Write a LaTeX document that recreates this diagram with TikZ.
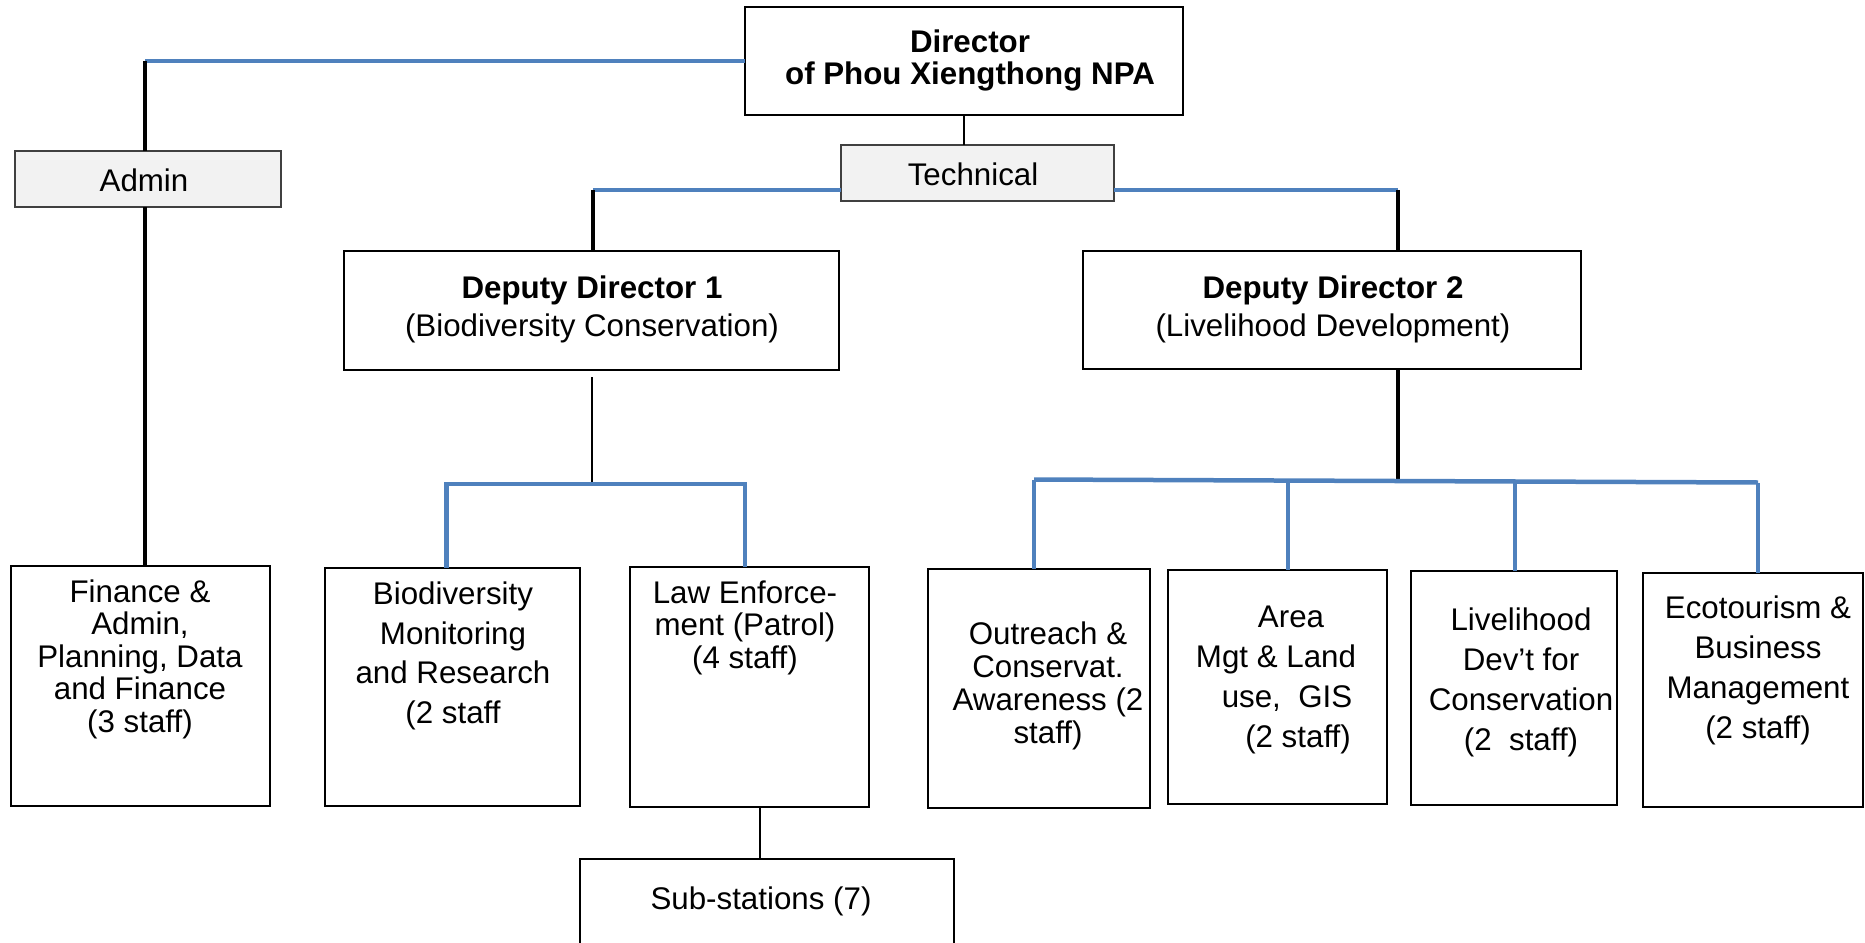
\documentclass[tikz,border=0pt]{standalone}
\usepackage{fontspec}
\setmainfont{Liberation Sans}
\usetikzlibrary{calc}
\definecolor{orgblue}{HTML}{4F81BD}
\definecolor{boxgray}{HTML}{F2F2F2}
\definecolor{boxline}{HTML}{404040}
\begin{document}
\begin{tikzpicture}[x=1pt,y=-1pt,
  box/.style={draw=black,line width=2pt,rectangle,inner sep=0pt,outer sep=0pt,fill=white},
  graybox/.style={draw=boxline,line width=2pt,rectangle,inner sep=0pt,outer sep=0pt,fill=boxgray},
  lbl/.style={inner sep=0pt,align=center,font=\fontsize{31.3}{#1}\selectfont},
  lbl/.default=32,
  blueline/.style={draw=orgblue,line width=4.5pt},
  thickline/.style={draw=black,line width=4.5pt},
  thinline/.style={draw=black,line width=2.5pt}]
\useasboundingbox (0,0) rectangle (1865,942);
\clip (0,0) rectangle (1865,942);
% boxes
\node[box, minimum width=438pt, minimum height=108pt] (dir) at (964,61) {};
\node[graybox, minimum width=266pt, minimum height=56pt] (admin) at (148,179) {};
\node[graybox, minimum width=273pt, minimum height=56pt] (tech) at (977.5,173) {};
\node[box, minimum width=495pt, minimum height=119pt] (dd1) at (591.5,310.5) {};
\node[box, minimum width=498pt, minimum height=118pt] (dd2) at (1332,310) {};
\node[box, minimum width=259pt, minimum height=240pt] (fin) at (140.5,686) {};
\node[box, minimum width=255pt, minimum height=238pt] (bio) at (452.5,687) {};
\node[box, minimum width=239pt, minimum height=240pt] (law) at (749.5,687) {};
\node[box, minimum width=374pt, minimum height=120pt] (sub) at (767,919) {};
\node[box, minimum width=222pt, minimum height=239pt] (out) at (1039,688.5) {};
\node[box, minimum width=219pt, minimum height=234pt] (area) at (1277.5,687) {};
\node[box, minimum width=206pt, minimum height=234pt] (live) at (1514,688) {};
\node[box, minimum width=220pt, minimum height=234pt] (eco) at (1753,690) {};
% junction coordinates
\coordinate (tl) at (145,61);
\coordinate (tj1) at (593,190);
\coordinate (tj2) at (1398,190);
\coordinate (j1) at (592,484);
\coordinate (v1) at (446.5,484);
\coordinate (v2) at (745,484);
\coordinate (j2) at (1398,479.5);
\coordinate (w1) at (1034,479.5);
\coordinate (w2) at (1288,480.5);
\coordinate (w3) at (1515,481.5);
\coordinate (w4) at (1758,482.5);
\coordinate (s1) at (760,807);
% connectors
\draw[blueline] (dir.west) -- (tl);
\draw[thickline] (tl) -- (tl |- admin.north);
\draw[thickline] (tl |- admin.south) -- (tl |- fin.north);
\draw[thinline] (dir.south) -- (dir.south |- tech.north);
\draw[blueline] (tech.west |- tj1) -- (tj1);
\draw[blueline] (tech.east |- tj2) -- (tj2);
\draw[thickline] (tj1) -- (tj1 |- dd1.north);
\draw[thickline] (tj2) -- (tj2 |- dd2.north);
\draw[thinline] ([yshift=-7pt]j1 |- dd1.south) -- (j1);
\draw[blueline] (v1 |- bio.north) -- (v1) -- (v2) -- (v2 |- law.north);
\draw[thickline] (j2 |- dd2.south) -- (j2);
\draw[blueline] (w1) -- (w4);
\draw[blueline] (w1) -- (w1 |- out.north);
\draw[blueline] (w2) -- (w2 |- area.north);
\draw[blueline] (w3) -- (w3 |- live.north);
\draw[blueline] (w4) -- (w4 |- eco.north);
\draw[thinline] (s1 |- law.south) -- (s1 |- sub.north);
% texts
\node[lbl=32] (dirt) at (970,60) {\textbf{Director}\\\textbf{of Phou Xiengthong NPA}};
\node[lbl] (admint) at (144,180) {Admin};
\node[lbl] (techt) at (973,174) {Technical};
\node[lbl=38] (dd1t) at (592,309) {\textbf{Deputy Director 1}\\(Biodiversity Conservation)};
\node[lbl=38] (dd2t) at (1333,309) {\textbf{Deputy Director 2}\\(Livelihood Development)};
\node[lbl=32.5] (fint) at (140,659) {Finance \&\\Admin,\\Planning, Data\\and Finance\\(3 staff)};
\node[lbl=39.5] (biot) at (453,656) {Biodiversity\\Monitoring\\and Research\\(2 staff};
\node[lbl=32.5] (lawt) at (745,627.5) {Law Enforce-\\ment (Patrol)\\(4 staff)};
\node[lbl] (subt) at (761,901) {Sub-stations (7)};
\node[lbl=33] (outt) at (1048,686) {Outreach \&\\Conservat.\\Awareness (2\\staff)};
\node[lbl=40] (areat) at (1276,679.5) {\hspace*{30pt}Area\\Mgt \& Land\\\hspace*{22pt}use,\ \ GIS\\\hspace*{44pt}(2 staff)};
\node[lbl=40] (livet) at (1521,682) {Livelihood\\Dev’t for\\Conservation\\(2\ \ staff)};
\node[lbl=40] (ecot) at (1758,670) {Ecotourism \&\\Business\\Management\\(2 staff)};
\end{tikzpicture}
\end{document}
